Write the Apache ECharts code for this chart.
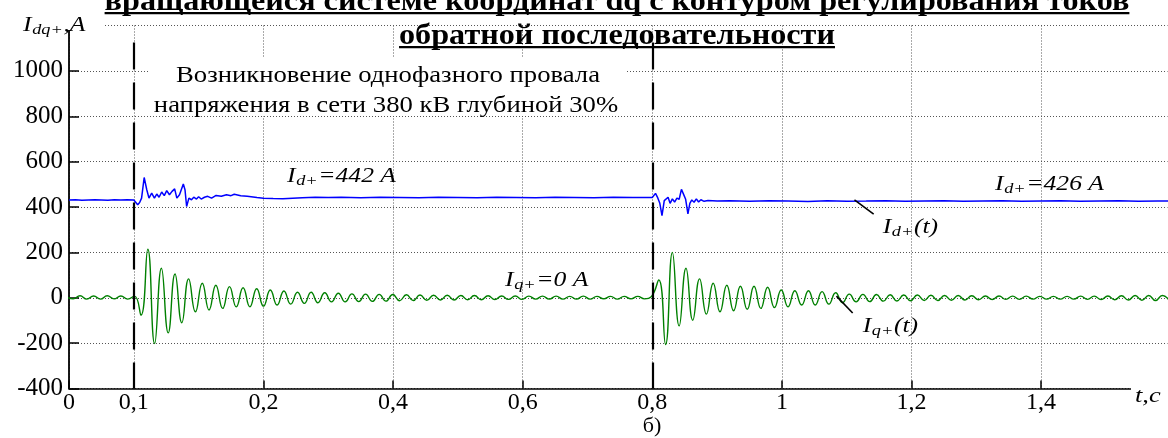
<!DOCTYPE html>
<html>
<head>
<meta charset="utf-8">
<script src="https://cdn.jsdelivr.net/npm/echarts@6/dist/echarts.min.js"></script>
<style>
html, body { margin: 0; padding: 0; background: #fff; }
#chart { width: 1168px; height: 438px; }
</style>
</head>
<body>
<div id="chart"></div>
<script>
// Time axis: where each tick sits and the text printed under it
const xTickValues = [-0.1, 0, 0.2, 0.4, 0.6, 0.8, 1.0, 1.2, 1.4];
const xTickLabels = ['0', '0,1', '0,2', '0,4', '0,6', '0,8', '1', '1,2', '1,4'];

// Start of the voltage dip and its clearing (dashed markers)
const eventTimes = [0, 0.8];

// I_d+(t): time, s
const idTime = [
  -0.1, -0.09, -0.08, -0.07, -0.06, -0.05, -0.04, -0.03, -0.02, -0.01, 0,
  0.003, 0.006, 0.009, 0.012, 0.016, 0.020, 0.0234, 0.0276, 0.0318, 0.0354,
  0.039, 0.043, 0.047, 0.0508, 0.055, 0.059, 0.063, 0.0664, 0.0705, 0.0764,
  0.079, 0.0815, 0.085, 0.089, 0.0925, 0.0967, 0.1, 0.104, 0.109, 0.114,
  0.12, 0.127, 0.135, 0.143, 0.15, 0.155, 0.165, 0.175, 0.19, 0.2,
  0.215, 0.23, 0.245, 0.26, 0.28, 0.3, 0.32, 0.35, 0.38, 0.41,
  0.44, 0.47, 0.5, 0.53, 0.56, 0.59, 0.62, 0.65, 0.68, 0.71,
  0.74, 0.77, 0.8, 0.805, 0.8085, 0.8115, 0.815, 0.8185, 0.8215, 0.8244,
  0.8275, 0.831, 0.8345, 0.838, 0.8415, 0.845, 0.848, 0.8515, 0.855, 0.858,
  0.861, 0.8645, 0.868, 0.8715, 0.875, 0.88, 0.886, 0.9, 0.92, 0.95,
  0.98, 1.01, 1.04, 1.07, 1.1, 1.13, 1.16, 1.19, 1.22, 1.25,
  1.28, 1.31, 1.34, 1.37, 1.4, 1.43, 1.46, 1.49, 1.52, 1.55,
  1.58, 1.6
];
// I_d+(t): current, A
const idValue = [
  431, 432, 430, 431, 432, 431, 430, 432, 431, 432, 431,
  428, 410, 420, 439, 530, 476, 439, 461, 439, 457,
  443, 466, 450, 472, 454, 469, 480, 439, 454, 501,
  476, 402, 439, 432, 443, 435, 445, 435, 443, 447,
  439, 451, 447, 454, 450, 456, 450, 447, 442, 439,
  437, 436, 439, 441, 443, 442, 443, 441, 443, 442,
  441, 443, 442, 441, 443, 442, 441, 443, 442, 441,
  443, 442, 442, 460, 440, 418, 362, 428, 425, 443,
  416, 436, 422, 439, 434, 478, 458, 434, 370, 416,
  431, 421, 436, 422, 432, 425, 429, 426, 427, 425,
  427, 426, 424, 427, 425, 426, 428, 425, 426, 427,
  425, 426, 427, 425, 426, 427, 425, 426, 427, 425,
  426, 426
];

// I_q+(t): successive extrema of the oscillation, A, in three runs
const iqHalfPeriod = 0.0105;
const iqPreStart = -0.104;
const iqPre = [3, -5, 9, -6, 8, -6, 9, -5, 8, -6, 7];
const iqDipStart = 0.0111;
const iqDip = [
  -77, 214, -202, 130, -155, 105, -110, 83, -62, 64,
  -54, 55, -47, 49, -40, 44, -40, 40, -37, 34,
  -32, 30, -28, 24, -25, 24, -22, 22, -18, 20,
  -18, 17, -17, 16, -16, 15, -15, 14, -13, 13,
  -12, 12, -11, 11, -10, 11, -10, 10, -9, 10,
  -9, 9, -8, 8, -7, 8, -7, 7, -6, 7,
  -6, 7, -6, 6, -6, 7, -6, 6, -5, 6,
  -6, 6, -5, 6, -5, 5
];
const iqClearStart = 0.810;
const iqClear = [
  78, -206, 200, -124, 130, -99, 83, -72, 64, -62,
  55, -57, 51, -51, 51, -47, 46, -43, 34, -40,
  31, -32, 31, -32, 27, -28, 22, -22, 16, -18,
  15, -17, 14, -15, 13, -14, 12, -13, 12, -12,
  11, -12, 10, -11, 10, -10, 9, -9, 8, -8,
  8, -7, 7, -7, 7, -6, 6, -6, 6, -6,
  6, -6, 7, -7, 7, -8, 8, -9, 9, -10,
  10, -11, 10, -12, 10, -11
];

const SERIF = '"Liberation Serif", "Times New Roman", serif';

const idData = idTime.map((t, i) => [t, idValue[i]]);
function run(start, values) {
  return values.map((v, k) => [start + k * iqHalfPeriod, v]);
}
const iqData = run(iqPreStart, iqPre)
  .concat(run(iqDipStart, iqDip))
  .concat(run(iqClearStart, iqClear));

function tickText(v) {
  for (let i = 0; i < xTickValues.length; i++) {
    if (Math.abs(v - xTickValues[i]) < 1e-6) return xTickLabels[i];
  }
  return '';
}

// width of a string in a given canvas font
const measureCtx = document.createElement('canvas').getContext('2d');
function textWidth(str, font) {
  measureCtx.font = font;
  return measureCtx.measureText(str).width;
}

// a text piece placed by its baseline
function piece(x, baseline, str, font, size, align) {
  return {
    type: 'text', x: x, y: baseline - 0.305 * size, z: 110,
    style: {
      text: str, font: font, fill: '#000',
      align: align || 'left', textAlign: align || 'left',
      verticalAlign: 'middle', textVerticalAlign: 'middle'
    }
  };
}

// italic symbol with a lowered index, e.g. I with "d+", then the rest
const SYM_SIZE = 21, SUB_SIZE = 15, SYM_SCALE = 1.22;
const symFont = 'italic ' + SYM_SIZE + 'px "Liberation Serif"';
const subFont = 'italic ' + SUB_SIZE + 'px "Liberation Serif"';
function symbolText(x, baseline, main, sub, tail) {
  const w0 = textWidth(main, symFont) + 0.5;
  const w1 = textWidth(sub, subFont) + 0.5;
  return {
    type: 'group', x: x, y: baseline, scaleX: SYM_SCALE, z: 110,
    children: [
      piece(0, 0, main, symFont, SYM_SIZE),
      piece(w0, 3, sub, subFont, SUB_SIZE),
      piece(w0 + w1, 0, tail, symFont, SYM_SIZE)
    ]
  };
}

function scaledText(cx, baseline, str, font, size, scaleX, align) {
  return {
    type: 'group', x: cx, y: baseline, scaleX: scaleX, z: 110,
    children: [piece(0, 0, str, font, size, align || 'center')]
  };
}

const titleSize = 29;
const titleFont = 'bold ' + titleSize + 'px "Liberation Serif"';
const titleLine1 = 'вращающейся системе координат dq с контуром регулирования токов';
const titleLine2 = 'обратной последовательности';
const titleScale = 1.11;
const w1 = textWidth(titleLine1, titleFont) * titleScale;
const w2 = textWidth(titleLine2, titleFont) * titleScale;

const noteSize = 23;
const noteFont = noteSize + 'px "Liberation Serif"';
const noteScale = 1.16;

const graphics = [
  // paper under the caption block and the axis names
  { type: 'rect', z: 100, shape: { x: 148, y: 58, width: 479, height: 58 }, style: { fill: '#fff' } },
  { type: 'rect', z: 100, shape: { x: 16, y: 12, width: 87, height: 18 }, style: { fill: '#fff' } },
  { type: 'rect', z: 100, shape: { x: 1131, y: 380, width: 37, height: 16 }, style: { fill: '#fff' } },

  scaledText(617, 11, titleLine1, titleFont, titleSize, titleScale),
  { type: 'rect', z: 110, shape: { x: 617 - w1 / 2, y: 12, width: w1, height: 2.2 }, style: { fill: '#000' } },
  scaledText(617, 45, titleLine2, titleFont, titleSize, titleScale),
  { type: 'rect', z: 110, shape: { x: 617 - w2 / 2, y: 46, width: w2, height: 2.2 }, style: { fill: '#000' } },

  scaledText(388, 83, 'Возникновение однофазного провала', noteFont, noteSize, noteScale),
  scaledText(386, 113, 'напряжения в сети 380 кВ глубиной 30%', noteFont, noteSize, noteScale),

  symbolText(23, 32, 'I', 'dq+', ',A'),
  scaledText(1135, 403, 't,c', 'italic 22px "Liberation Serif"', 22, 1.2, 'left'),
  scaledText(652, 433, 'б)', '21px "Liberation Serif"', 21, 1.05),

  symbolText(287, 183, 'I', 'd+', '=442 A'),
  symbolText(995, 190.7, 'I', 'd+', '=426 A'),
  symbolText(505, 287, 'I', 'q+', '=0 A'),
  symbolText(882.7, 234, 'I', 'd+', '(t)'),
  symbolText(862.7, 333, 'I', 'q+', '(t)')
];

const chart = echarts.init(document.getElementById('chart'), null, { renderer: 'canvas' });
chart.setOption({
  animation: false,
  backgroundColor: '#fff',
  grid: { left: 69, right: 0.5, top: 25.5, bottom: 49.5, containLabel: false },
  xAxis: {
    type: 'value', min: -0.1, max: 1.595,
    axisLine: { show: true, onZero: false, lineStyle: { color: '#000', width: 1.5 } },
    axisTick: { show: true, inside: true, length: 8, customValues: xTickValues, lineStyle: { color: '#000', width: 1.5 } },
    axisLabel: { customValues: xTickValues, formatter: tickText, fontFamily: SERIF, fontSize: 24, color: '#000', margin: 2 },
    splitLine: { show: true, lineStyle: { color: '#555', width: 1, type: [1, 2] } }
  },
  yAxis: {
    type: 'value', min: -400, max: 1200, interval: 200,
    axisLine: { show: true, onZero: false, lineStyle: { color: '#000', width: 1.8 } },
    axisTick: { show: true, inside: true, length: 10, lineStyle: { color: '#000', width: 1.5 } },
    axisLabel: { formatter: v => (v === 1200 ? '' : String(v)), fontFamily: SERIF, fontSize: 25, color: '#000', margin: 6 },
    splitLine: { show: true, lineStyle: { color: '#555', width: 1, type: [1, 2] } }
  },
  series: [
    {
      name: 'Id+', type: 'line', data: idData, showSymbol: false, z: 3,
      lineStyle: { color: '#0000ff', width: 1.5 },
      markLine: {
        silent: true, symbol: ['none', 'none'], label: { show: false },
        lineStyle: { color: '#000', width: 2.2, type: [27, 13] },
        data: eventTimes.map(t => [{ coord: [t, 1125] }, { coord: [t, -400] }])
      }
    },
    {
      name: 'Iq+', type: 'line', data: iqData, showSymbol: false, smooth: true, z: 3,
      lineStyle: { color: '#008000', width: 1.4 },
      markLine: {
        silent: true, symbol: ['none', 'none'], label: { show: false },
        lineStyle: { color: '#000', width: 1.6, type: 'solid' },
        data: [
          [{ coord: [1.112, 431] }, { coord: [1.1416, 369] }],
          [{ coord: [1.0842, 7] }, { coord: [1.1092, -67] }]
        ]
      }
    }
  ],
  graphic: graphics
});
</script>
</body>
</html>
